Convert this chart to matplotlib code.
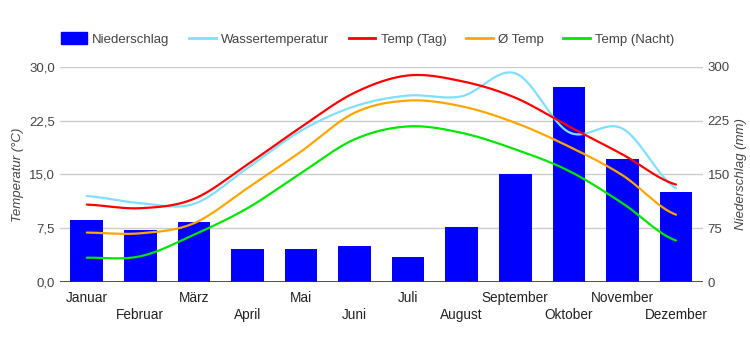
import numpy as np
import matplotlib
matplotlib.use("Agg")
import matplotlib.pyplot as plt
from matplotlib.lines import Line2D
from matplotlib.patches import Patch

plt.rcParams['font.family'] = ['Liberation Sans', 'DejaVu Sans']

months = ["Januar", "Februar", "März", "April", "Mai", "Juni", "Juli",
          "August", "September", "Oktober", "November", "Dezember"]
niederschlag = [86, 73, 84, 46, 46, 51, 35, 77, 151, 272, 172, 125]
wassertemp = [12.0, 11.0, 10.9, 15.9, 21.1, 24.5, 26.0, 25.9, 29.1, 20.9, 21.4, 13.1]
temp_tag = [10.8, 10.3, 11.6, 16.4, 21.6, 26.4, 28.8, 28.0, 25.7, 21.7, 17.8, 13.6]
temp_avg = [6.9, 6.8, 8.2, 13.1, 18.2, 23.6, 25.3, 24.5, 22.2, 18.9, 14.9, 9.4]
temp_nacht = [3.4, 3.6, 6.6, 10.3, 15.2, 19.9, 21.7, 20.8, 18.5, 15.5, 11.0, 5.8]

left_ticks = [0, 7.5, 15, 22.5, 30]
left_labels = ["0,0", "7,5", "15,0", "22,5", "30,0"]
right_ticks = [0, 75, 150, 225, 300]


def smooth(y, n=30, t=0.5):
    y = np.asarray(y, float)
    x = np.arange(len(y), dtype=float)
    p = np.concatenate([[y[0]], y, [y[-1]]])
    xs, ys = [], []
    for i in range(len(y) - 1):
        p0, p1, p2, p3 = p[i], p[i + 1], p[i + 2], p[i + 3]
        m1 = t * (p2 - p0)
        m2 = t * (p3 - p1)
        s = np.linspace(0, 1, n, endpoint=False)
        h00 = 2 * s**3 - 3 * s**2 + 1
        h10 = s**3 - 2 * s**2 + s
        h01 = -2 * s**3 + 3 * s**2
        h11 = s**3 - s**2
        ys.append(h00 * p1 + h10 * m1 + h01 * p2 + h11 * m2)
        xs.append(x[i] + s)
    xs.append([x[-1]])
    ys.append([y[-1]])
    return np.concatenate(xs), np.concatenate(ys)


fig = plt.figure(figsize=(7.5, 3.5), dpi=100)
ax = fig.add_axes([0.08, 0.194, 0.857, 0.615])
ax2 = ax.twinx()
ax.set_zorder(2)
ax.patch.set_visible(False)
ax2.set_zorder(1)

x = np.arange(len(months))
ax2.bar(x, niederschlag, width=0.61, color="#0000ff", zorder=2)
ax2.set_ylim(0, 300)
ax2.set_yticks(right_ticks)
ax2.set_yticklabels([str(v) for v in right_ticks])
ax2.yaxis.grid(True, color="#cccccc", linewidth=1, zorder=0)
ax2.set_axisbelow(True)
ax2.set_ylabel("Niederschlag (mm)", fontstyle="italic", color="#444444", fontsize=9.5, labelpad=4)

series = [(wassertemp, "#80dfff"), (temp_tag, "#ff0000"), (temp_avg, "#ffa500"), (temp_nacht, "#00e600")]
for vals, col in series:
    xs, ys = smooth(vals)
    ax.plot(xs, ys, color=col, linewidth=1.6, solid_capstyle="round")

ax.set_ylim(0, 30)
ax.set_yticks(left_ticks)
ax.set_yticklabels(left_labels)
ax.set_xlim(-0.5, 11.5)
ax.set_xticks(x)
ax.set_xticklabels([])
for i, m in enumerate(months):
    ax.text(i, -1.2 if i % 2 == 0 else -3.6, m, ha="center", va="top", fontsize=9.8, color="#222222")
ax.set_ylabel("Temperatur (°C)", fontstyle="italic", color="#444444", fontsize=9.5, labelpad=4)

for a in (ax, ax2):
    for s in a.spines.values():
        s.set_visible(False)
    a.tick_params(length=0, labelsize=9.5, labelcolor="#444444")
ax.axhline(0, color="#333333", linewidth=1.2, zorder=5)

handles = [Patch(color="#0000ff"),
           Line2D([], [], color="#80dfff", linewidth=2),
           Line2D([], [], color="#ff0000", linewidth=2),
           Line2D([], [], color="#ffa500", linewidth=2),
           Line2D([], [], color="#00e600", linewidth=2)]
labels = ["Niederschlag", "Wassertemperatur", "Temp (Tag)", "Ø Temp", "Temp (Nacht)"]
fig.legend(handles, labels, loc="center", bbox_to_anchor=(0.49, 0.888), ncol=5, frameon=False,
           fontsize=9.5, handlelength=2.0, handleheight=1.0, columnspacing=1.5, handletextpad=0.4,
           labelcolor="#444444")

fig.savefig("out.png", dpi=100)
